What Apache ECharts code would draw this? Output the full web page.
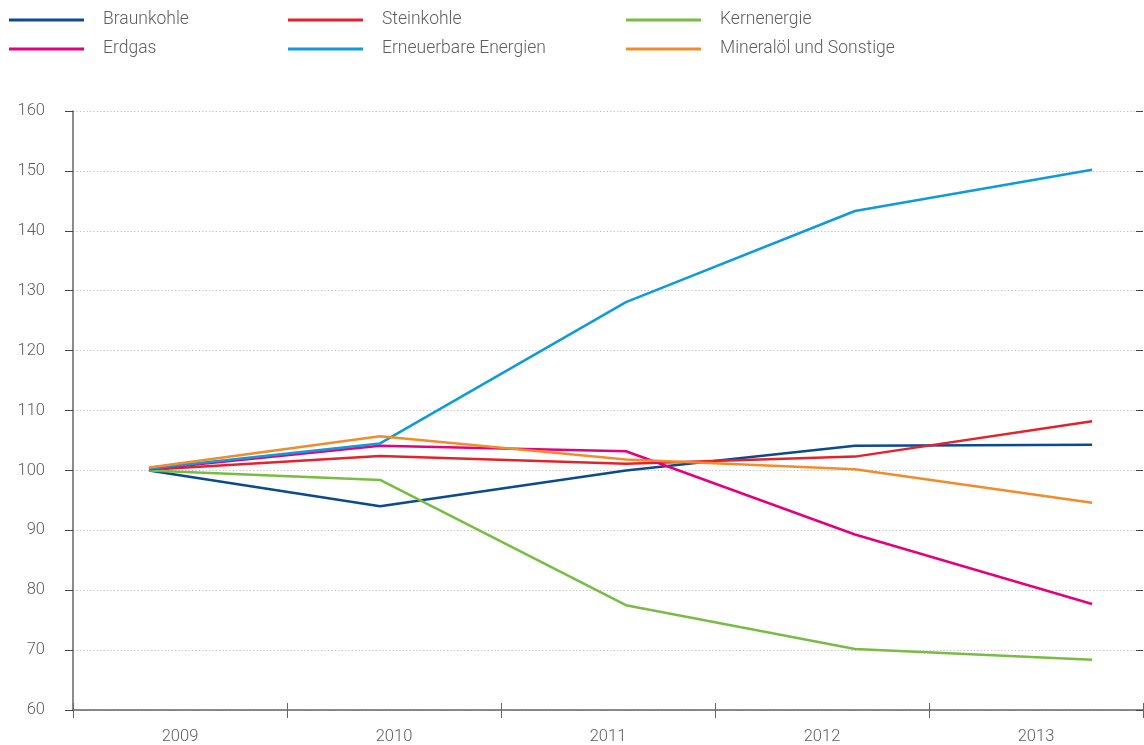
<!DOCTYPE html>
<html><head><meta charset="utf-8">
<script src="https://cdn.jsdelivr.net/npm/echarts@6/dist/echarts.min.js"></script>
<style>html,body{margin:0;padding:0;background:#fff}#c{width:1144px;height:745px}</style>
</head><body><div id="c"></div>
<script>
var years = ['2009','2010','2011','2012','2013'];
// position of each observation along the year axis (in category units)
var pointPos = [0.355, 1.435, 2.584, 3.654, 4.762];
var yTicks = [60,70,80,90,100,110,120,130,140,150,160];
var braunkohle = [100.0, 94.0, 100.0, 104.1, 104.3];
var steinkohle = [100.1, 102.4, 101.1, 102.3, 108.2];
var kernenergie = [100.0, 98.4, 77.5, 70.2, 68.4];
var erdgas = [100.2, 104.1, 103.2, 89.3, 77.7];
var erneuerbare = [100.3, 104.5, 128.1, 143.3, 150.2];
var mineraloel = [100.5, 105.7, 101.8, 100.2, 94.6];
var seriesNames = ['Braunkohle','Steinkohle','Kernenergie','Erdgas','Erneuerbare Energien','Mineralöl und Sonstige'];
var seriesData = [braunkohle, steinkohle, kernenergie, erdgas, erneuerbare, mineraloel];
var colors = ['#0a4a91','#e5222b','#78bd42','#e5007d','#0d9bdc','#f28b2a'];

var font = 'Roboto';
var txtColor = '#5e5e5e';
var axisCol = '#666';

function legendCol(names, left){
  return {
    data: names, left: left, top: 10, orient: 'vertical', itemGap: 9, padding: 0,
    icon: 'rect', itemWidth: 75, itemHeight: 3,
    textStyle: {fontFamily: font, fontWeight: 300, fontSize: 17.5, color: txtColor, lineHeight: 20, padding: [0,0,0,14]},
    selectedMode: false
  };
}

var chart = echarts.init(document.getElementById('c'), null, {renderer: 'canvas'});
chart.setOption({
  animation: false,
  color: colors,
  legend: [
    legendCol([seriesNames[0], seriesNames[3]], 9),
    legendCol([seriesNames[1], seriesNames[4]], 288),
    legendCol([seriesNames[2], seriesNames[5]], 626)
  ],
  grid: {left: 73, right: 1, top: 111, bottom: 30, containLabel: false},
  xAxis: [
    {type: 'category', data: years, boundaryGap: true,
     axisLine: {lineStyle: {color: axisCol, width: 1.5}},
     axisTick: {show: true, length: 8, inside: false, lineStyle: {color: axisCol}},
     axisLabel: {fontFamily: font, fontWeight: 300, fontSize: 16.5, color: txtColor, margin: 18},
     splitLine: {show: false}},
    {type: 'category', data: years, boundaryGap: true, position: 'bottom',
     axisLine: {show: false},
     axisTick: {show: true, length: 7, inside: true, lineStyle: {color: axisCol}},
     axisLabel: {show: false}, splitLine: {show: false}},
    {type: 'value', min: 0, max: years.length, show: false, splitLine: {show: false}}
  ],
  yAxis: [
    {type: 'value', min: yTicks[0], max: yTicks[yTicks.length-1], interval: yTicks[1]-yTicks[0],
     axisLine: {show: true, lineStyle: {color: axisCol, width: 1.5}},
     axisTick: {show: true, length: 8, inside: false, lineStyle: {color: '#444'}},
     axisLabel: {fontFamily: font, fontWeight: 300, fontSize: 16.5, color: txtColor, margin: 28},
     splitLine: {show: true, lineStyle: {color: '#bdbdbd', type: [1.2, 2.2], width: 1.2}}},
    {type: 'value', min: yTicks[0], max: yTicks[yTicks.length-1], interval: yTicks[1]-yTicks[0],
     axisLine: {show: false},
     axisTick: {show: true, length: 7, inside: true, lineStyle: {color: '#444'}},
     axisLabel: {show: false}, splitLine: {show: false}}
  ],
  series: seriesNames.map(function(n, i){
    return {
      name: n, type: 'line', xAxisIndex: 2, yAxisIndex: 0,
      symbol: 'none', showSymbol: false,
      lineStyle: {width: 2.5, color: colors[i]},
      itemStyle: {color: colors[i]},
      data: seriesData[i].map(function(v, j){ return [pointPos[j], v]; }),
      z: 3
    };
  })
});
</script>
</body></html>
